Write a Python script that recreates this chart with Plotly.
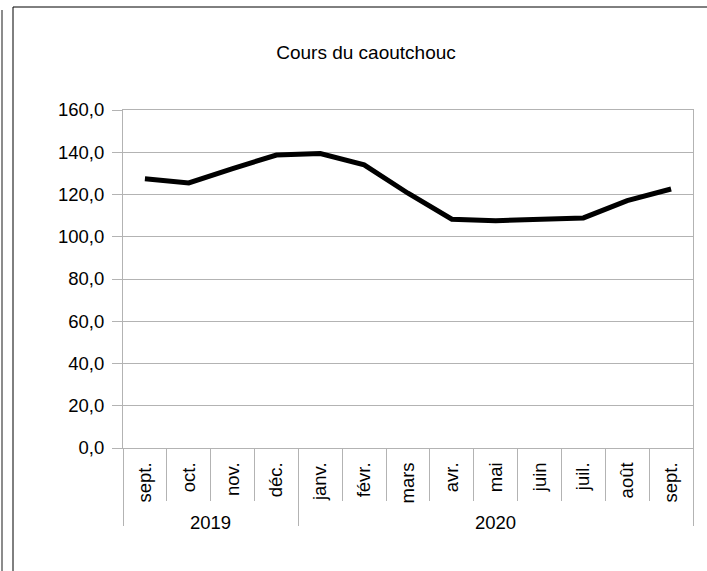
import plotly.graph_objects as go

years = ["2019", "2020"]
year_counts = [4, 9]
months = ["sept.", "oct.", "nov.", "déc.", "janv.", "févr.", "mars", "avr.",
          "mai", "juin", "juil.", "août", "sept."]
values = [127.5, 125.5, 132.3, 138.7, 139.4, 134.0, 120.6, 108.3, 107.6,
          108.2, 108.9, 117.1, 122.6]
y_ticks = [0, 20, 40, 60, 80, 100, 120, 140, 160]

W, H = 707, 571
L, R, T, B = 123, 14, 110, 123
pw, ph = W - L - R, H - T - B

def px(X):
    return (X - L) / pw

def py(Y):
    return (H - B - Y) / ph

n = len(months)
xpos = list(range(n))
xrange_ = [-0.5, n - 0.5]
boundaries = [k - 0.5 for k in range(n + 1)]
group_edges = [-0.5]
for c in year_counts:
    group_edges.append(group_edges[-1] + c)
group_centers = [(group_edges[i] + group_edges[i + 1]) / 2 for i in range(len(years))]

GREY = "#b3b3b3"
font = dict(family="Liberation Sans, Arial, sans-serif", color="#000000")
FS = 18.5

fig = go.Figure()
fig.add_trace(go.Scatter(
    x=xpos, y=values, mode="lines",
    line=dict(color="#000000", width=5), showlegend=False, hoverinfo="skip",
))
# invisible carriers so the tick-only overlay axes get drawn
for ax in ["x2", "x3"]:
    fig.add_trace(go.Scatter(
        x=xpos, y=values, xaxis=ax, yaxis="y", mode="lines",
        opacity=0, showlegend=False, hoverinfo="skip",
    ))

fig.update_layout(
    width=W, height=H,
    margin=dict(l=L, r=R, t=T, b=B, pad=0),
    paper_bgcolor="#ffffff", plot_bgcolor="#ffffff",
    separators=", ",
    font=dict(size=FS, **font),
    title=dict(text="Cours du caoutchouc", x=366 / W,
               xanchor="center", xref="container",
               y=1 - 52 / H, yanchor="middle", yref="container",
               font=dict(size=19, **font)),
    xaxis=dict(
        range=xrange_, tickvals=xpos, ticktext=months, tickangle=-90,
        showgrid=False, showline=True, linecolor=GREY, linewidth=1,
        mirror=True, ticks="", automargin=False, zeroline=False,
        tickfont=dict(size=FS, **font), ticklabelstandoff=6,
    ),
    xaxis2=dict(
        range=xrange_, overlaying="x", anchor="y", side="bottom",
        tickvals=boundaries, showticklabels=False, showgrid=False,
        ticks="outside", ticklen=52, tickcolor=GREY, tickwidth=1,
        showline=False, zeroline=False, automargin=False,
    ),
    xaxis3=dict(
        range=xrange_, overlaying="x", anchor="y", side="bottom",
        tickvals=group_edges, showticklabels=False, showgrid=False,
        ticks="outside", ticklen=77, tickcolor=GREY, tickwidth=1,
        showline=False, zeroline=False, automargin=False,
    ),
    yaxis=dict(
        range=[0, 160], tickvals=y_ticks, tickformat=".1f",
        showgrid=True, gridcolor=GREY, gridwidth=1,
        showline=True, linecolor=GREY, linewidth=1, mirror=True,
        ticks="outside", ticklen=10, tickcolor=GREY, automargin=False,
        tickfont=dict(size=FS, **font), zeroline=False,
        ticklabelstandoff=4,
    ),
    annotations=[
        dict(text=yr, x=cx, y=py(522), xref="x", yref="paper",
             showarrow=False, xanchor="center", yanchor="middle",
             font=dict(size=FS, **font))
        for yr, cx in zip(years, group_centers)
    ],
    shapes=[
        dict(type="line", xref="paper", yref="paper",
             x0=px(13), x1=px(13), y0=py(7), y1=py(H + 5),
             line=dict(color="#000000", width=1)),
        dict(type="line", xref="paper", yref="paper",
             x0=px(13), x1=px(W + 5), y0=py(7), y1=py(7),
             line=dict(color="#000000", width=1)),
        dict(type="line", xref="paper", yref="paper",
             x0=px(2), x1=px(2), y0=py(10), y1=py(H + 5),
             line=dict(color="#666666", width=1.5)),
    ],
)

fig.write_html("out.html", config={"displayModeBar": False},
               post_script="document.body.style.margin='0px';")
